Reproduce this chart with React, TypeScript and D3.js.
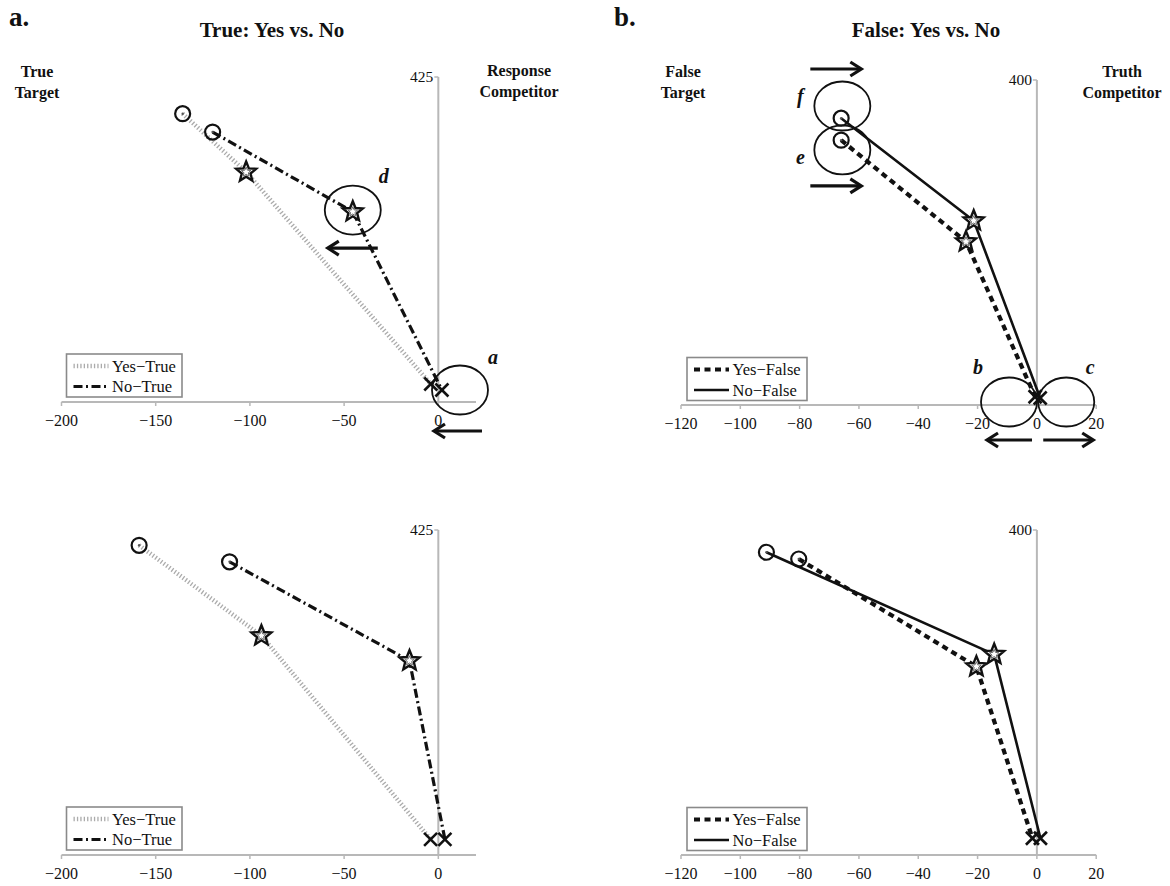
import React from 'react';
import * as d3 from 'd3';

type Pt = [number, number];

// Trajectory points, in order: circle (end), star (middle), cross (start)
const markerOrder = ['circle', 'star', 'cross'];

const trueTopYes: Pt[] = [[-135.7, 377], [-102, 300.7], [-4, 23.5]];
const trueTopNo: Pt[] = [[-119.8, 353], [-45.4, 248.8], [1.9, 15.7]];
const falseTopYes: Pt[] = [[-66, 326], [-23.9, 201], [-0.6, 10.2]];
const falseTopNo: Pt[] = [[-66, 353], [-21.3, 226.8], [1.1, 8.6]];
const trueBottomYes: Pt[] = [[-158.8, 405], [-93.9, 286.7], [-4.1, 20.5]];
const trueBottomNo: Pt[] = [[-110.8, 383.4], [-15.3, 254], [3.5, 20.5]];
const falseBottomYes: Pt[] = [[-80.3, 364.3], [-20.4, 231.8], [-1.5, 20.6]];
const falseBottomNo: Pt[] = [[-91.2, 372.6], [-14.4, 247], [1.2, 20.6]];

const leftXTicks = [-200, -150, -100, -50, 0];
const rightXTicks = [-120, -100, -80, -60, -40, -20, 0, 20];
const trueYMax = 425;
const falseYMax = 400;

const seriesNames = {
  yesTrue: 'Yes\u2212True',
  noTrue: 'No\u2212True',
  yesFalse: 'Yes\u2212False',
  noFalse: 'No\u2212False',
};

// Highlight rings with arrows (data units for the ring centre)
const trueRings = [
  { label: 'd', at: [-45.4, 251] as Pt, lab: [31, -27], arrow: { dy: 38, from: 25, to: -25 } },
  { label: 'a', at: [11.5, 15.7] as Pt, lab: [33, -26], arrow: { dy: 41, from: 22, to: -26 } },
];
const falseRings = [
  { label: 'f', at: [-65.6, 368] as Pt, lab: [-42, -3], arrow: { dy: -37, from: -32, to: 19 } },
  { label: 'e', at: [-65.6, 314] as Pt, lab: [-42, 14], arrow: { dy: 36, from: -32, to: 19 } },
  { label: 'b', at: [-9.4, 3.7] as Pt, lab: [-31, -28], arrow: { dy: 38, from: 23, to: -22 } },
  { label: 'c', at: [9.9, 3.7] as Pt, lab: [24, -28], arrow: { dy: 38, from: -23, to: 27 } },
];

const FONT = '"Liberation Serif", "Times New Roman", serif';

const styles: Record<string, { stroke: string; width: number; dash?: string }> = {
  yesTrue: { stroke: '#ababab', width: 4.5, dash: '1.3,2.1' },
  noTrue: { stroke: '#111', width: 3.2, dash: '9,3.5,2,3.5' },
  yesFalse: { stroke: '#111', width: 4.2, dash: '6,4.5' },
  noFalse: { stroke: '#111', width: 2.6 },
};

function starPath(cx: number, cy: number, R: number, r: number) {
  const pts: string[] = [];
  for (let i = 0; i < 10; i++) {
    const a = -Math.PI / 2 + (i * Math.PI) / 5;
    const rad = i % 2 === 0 ? R : r;
    pts.push(`${cx + rad * Math.cos(a)},${cy + rad * Math.sin(a)}`);
  }
  return 'M' + pts.join('L') + 'Z';
}

function Marker({ kind, x, y }: { kind: string; x: number; y: number }) {
  if (kind === 'circle') {
    return (
      <g>
        <circle cx={x} cy={y} r={7.5} fill="none" stroke="#111" strokeWidth={2.2} />
        <circle cx={x} cy={y} r={1.2} fill="#555" />
      </g>
    );
  }
  if (kind === 'star') {
    return (
      <g>
        <path d={starPath(x, y, 10.5, 4.6)} fill="#fff" stroke="#111" strokeWidth={2.4} strokeLinejoin="miter" />
        <path d={starPath(x, y, 5, 2.3)} fill="none" stroke="#666" strokeWidth={1} />
      </g>
    );
  }
  const s = 6.5;
  return (
    <g stroke="#111" strokeWidth={2.6}>
      <line x1={x - s} y1={y - s} x2={x + s} y2={y + s} />
      <line x1={x - s} y1={y + s} x2={x + s} y2={y - s} />
    </g>
  );
}

function Arrow({ x1, x2, y }: { x1: number; x2: number; y: number }) {
  const dir = x2 > x1 ? 1 : -1;
  return (
    <g stroke="#111" strokeWidth={3.2} fill="none">
      <line x1={x1} y1={y} x2={x2 - dir * 1.5} y2={y} />
      <path d={`M${x2 - dir * 11},${y - 7} L${x2},${y} L${x2 - dir * 11},${y + 7}`} strokeLinejoin="miter" />
    </g>
  );
}

type Series = { key: string; data: Pt[] };

type PanelProps = {
  xDomain: [number, number];
  xRange: [number, number];
  yMax: number;
  yRange: [number, number];
  ticks: number[];
  series: Series[];
  legend: [number, number, number];
  rings?: typeof trueRings;
};

function Panel({ xDomain, xRange, yMax, yRange, ticks, series, legend, rings }: PanelProps) {
  const x = d3.scaleLinear().domain(xDomain).range(xRange);
  const y = d3.scaleLinear().domain([0, yMax]).range(yRange);
  const line = d3.line<Pt>().x((d) => x(d[0])).y((d) => y(d[1]));
  const axisColor = '#b8b8b8';
  const x0 = x(0);
  const y0 = y(0);
  const [lx, ly, lw] = legend;
  return (
    <g>
      {/* axes */}
      <line x1={x(xDomain[0])} x2={x(xDomain[1])} y1={y0} y2={y0} stroke={axisColor} strokeWidth={2} />
      {ticks.map((t) => (
        <g key={t}>
          <line x1={x(t)} x2={x(t)} y1={y0} y2={y0 + 4} stroke={axisColor} strokeWidth={1.5} />
          <text x={x(t)} y={y0 + 23.5} textAnchor="middle" fontFamily={FONT} fontSize={16} fill="#111">
            {t < 0 ? '\u2212' + Math.abs(t) : String(t)}
          </text>
        </g>
      ))}
      <line x1={x0} x2={x0} y1={y(yMax)} y2={y0} stroke={axisColor} strokeWidth={2} />
      <line x1={x0 - 4} x2={x0} y1={y(yMax)} y2={y(yMax)} stroke={axisColor} strokeWidth={1.5} />
      <text x={x0 - 5} y={y(yMax) + 5} textAnchor="end" fontFamily={FONT} fontSize={15.5} fill="#111">
        {yMax}
      </text>

      {/* trajectories */}
      {series.map((s) => {
        const st = styles[s.key];
        return (
          <path key={s.key} d={line(s.data) || ''} fill="none" stroke={st.stroke} strokeWidth={st.width}
            strokeDasharray={st.dash} strokeLinejoin="round" />
        );
      })}
      {series.map((s) =>
        s.data.map((d, i) => <Marker key={s.key + i} kind={markerOrder[i]} x={x(d[0])} y={y(d[1])} />)
      )}

      {/* legend */}
      <g>
        <rect x={lx} y={ly} width={lw} height={43} fill="#fff" stroke="#8a8a8a" strokeWidth={1.6} />
        {series.map((s, i) => {
          const st = styles[s.key];
          const rowY = ly + 12 + i * 20.5;
          return (
            <g key={s.key}>
              <line x1={lx + 7} x2={lx + 42} y1={rowY} y2={rowY} stroke={st.stroke} strokeWidth={st.width}
                strokeDasharray={st.dash} />
              <text x={lx + 45.5} y={rowY + 5.5} fontFamily={FONT} fontSize={16.5} fill="#111">
                {seriesNames[s.key as keyof typeof seriesNames]}
              </text>
            </g>
          );
        })}
      </g>

      {/* highlighted regions */}
      {rings &&
        rings.map((r) => {
          const cx = x(r.at[0]);
          const cy = y(r.at[1]);
          return (
            <g key={r.label}>
              <ellipse cx={cx} cy={cy} rx={28} ry={24.5} fill="none" stroke="#111" strokeWidth={1.8} />
              <text x={cx + r.lab[0]} y={cy + r.lab[1]} textAnchor="middle" fontFamily={FONT} fontSize={20}
                fontWeight="bold" fontStyle="italic" fill="#111">
                {r.label}
              </text>
              <Arrow x1={cx + r.arrow.from} x2={cx + r.arrow.to} y={cy + r.arrow.dy} />
            </g>
          );
        })}
    </g>
  );
}

function Heading({ x, y, lines, size = 16 }: { x: number; y: number; lines: string[]; size?: number }) {
  return (
    <text x={x} y={y} textAnchor="middle" fontFamily={FONT} fontSize={size} fontWeight="bold" fill="#111">
      {lines.map((l, i) => (
        <tspan key={i} x={x} dy={i === 0 ? 0 : 21}>
          {l}
        </tspan>
      ))}
    </text>
  );
}

export default function App() {
  return (
    <svg width={1170} height={886} style={{ position: 'absolute', left: 0, top: 0, background: '#fff' }}>
      <rect width={1170} height={886} fill="#fff" />
      <text x={9} y={26} fontFamily={FONT} fontSize={27} fontWeight="bold" fill="#111">a.</text>
      <text x={614} y={26} fontFamily={FONT} fontSize={27} fontWeight="bold" fill="#111">b.</text>
      <text x={272} y={37} textAnchor="middle" fontFamily={FONT} fontSize={21} fontWeight="bold" fill="#111">
        True: Yes vs. No
      </text>
      <text x={926} y={37} textAnchor="middle" fontFamily={FONT} fontSize={21} fontWeight="bold" fill="#111">
        False: Yes vs. No
      </text>
      <Heading x={37} y={77} lines={['True', 'Target']} />
      <Heading x={519} y={76} lines={['Response', 'Competitor']} />
      <Heading x={683} y={77} lines={['False', 'Target']} />
      <Heading x={1122} y={77} lines={['Truth', 'Competitor']} />

      <Panel xDomain={[-200, 20]} xRange={[61.5, 476]} yMax={trueYMax} yRange={[402, 77]} ticks={leftXTicks}
        series={[{ key: 'yesTrue', data: trueTopYes }, { key: 'noTrue', data: trueTopNo }]}
        legend={[66.5, 354, 115.5]} rings={trueRings} />
      <Panel xDomain={[-120, 20]} xRange={[681, 1096.2]} yMax={falseYMax} yRange={[405, 80]} ticks={rightXTicks}
        series={[{ key: 'yesFalse', data: falseTopYes }, { key: 'noFalse', data: falseTopNo }]}
        legend={[687, 357.5, 120]} rings={falseRings} />
      <Panel xDomain={[-200, 20]} xRange={[61.5, 476]} yMax={trueYMax} yRange={[855, 530]} ticks={leftXTicks}
        series={[{ key: 'yesTrue', data: trueBottomYes }, { key: 'noTrue', data: trueBottomNo }]}
        legend={[66.5, 807, 115.5]} />
      <Panel xDomain={[-120, 20]} xRange={[681, 1096.2]} yMax={falseYMax} yRange={[855, 530]} ticks={rightXTicks}
        series={[{ key: 'yesFalse', data: falseBottomYes }, { key: 'noFalse', data: falseBottomNo }]}
        legend={[687, 807.5, 120]} />
    </svg>
  );
}
